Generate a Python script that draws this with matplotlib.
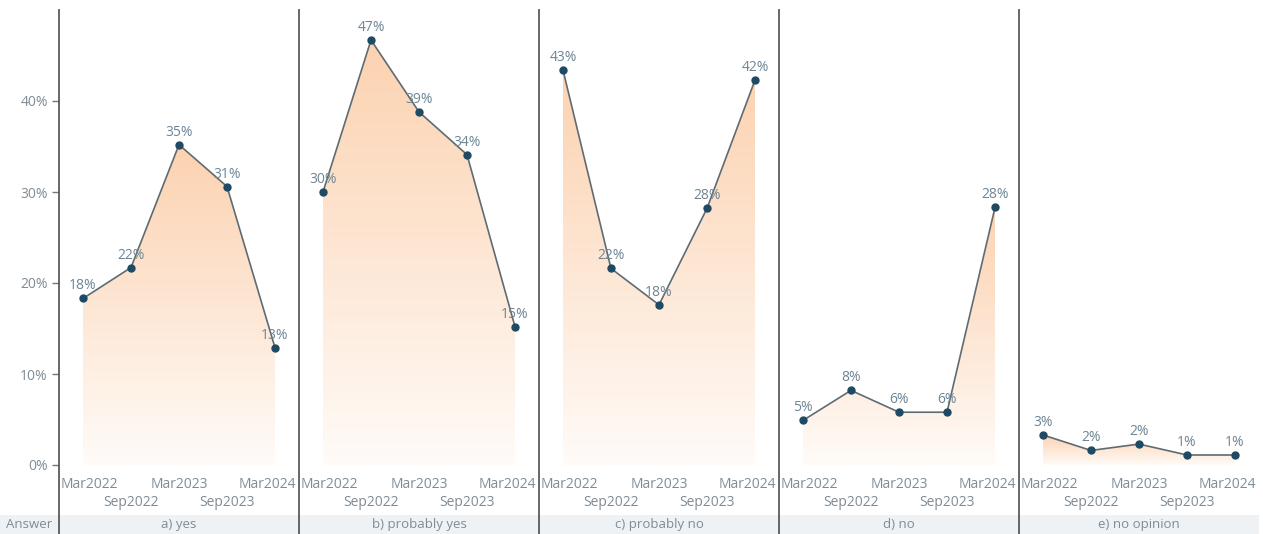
import numpy as np
import matplotlib
matplotlib.use("Agg")
import matplotlib.pyplot as plt
from matplotlib.colors import LinearSegmentedColormap
from matplotlib.patches import Polygon, Rectangle
from matplotlib.lines import Line2D

plt.rcParams["font.family"] = ["Open Sans", "DejaVu Sans"]

# Survey answers over time (share of respondents, %)
periods = ["Mar2022", "Sep2022", "Mar2023", "Sep2023", "Mar2024"]
answers = ["a) yes", "b) probably yes", "c) probably no", "d) no", "e) no opinion"]
yes = [18.3, 21.7, 35.2, 30.6, 12.9]
probably_yes = [30.0, 46.7, 38.8, 34.1, 15.2]
probably_no = [43.4, 21.6, 17.6, 28.2, 42.3]
no = [4.9, 8.2, 5.8, 5.8, 28.3]
no_opinion = [3.3, 1.6, 2.3, 1.1, 1.1]
series = [yes, probably_yes, probably_no, no, no_opinion]
y_ticks = [0, 10, 20, 30, 40]

W, H = 1263, 534
fig = plt.figure(figsize=(W / 100, H / 100), dpi=100)

line_col = "#5f6b72"
dot_col = "#1f4a63"
text_col = "#6d8595"
tick_col = "#7f8c96"
sep_col = "#5a5a5a"
fade = LinearSegmentedColormap.from_list("fade", ["#fffbf8", "#fcd2b0"])

x0, pw = 59, 240          # left edge and width of each panel, px
y_zero, y_top = 465, 10   # pixel rows of 0% and of the 50% top
ymax = 50

def px(x, y, w, h):
    return (x / W, 1 - (y + h) / H, w / W, h / H)

# footer band with the answer names
fig.patches.append(Rectangle((0, 0), 1259 / W, 19 / H, transform=fig.transFigure,
                             facecolor="#eef2f5", edgecolor="none", zorder=0))
fig.text(6 / W, 9.5 / H, "Answer", color=tick_col, fontsize=9.5, va="center", ha="left")

xs = np.arange(len(periods))
for i, (name, vals) in enumerate(zip(answers, series)):
    ax = fig.add_axes(px(x0 + i * pw, y_top, pw, y_zero - y_top))
    ax.set_xlim(-0.5, len(periods) - 0.5)
    ax.set_ylim(0, ymax)
    for s in ax.spines.values():
        s.set_visible(False)
    ax.set_xticks([])
    if i == 0:
        ax.set_yticks(y_ticks)
        ax.set_yticklabels([f"{t}%" for t in y_ticks])
        ax.tick_params(axis="y", length=5, width=1, color="#777777",
                       labelcolor=tick_col, labelsize=10, pad=3)
    else:
        ax.set_yticks([])

    # gradient fill under the line, clipped to the area polygon
    top = max(vals)
    grad = np.linspace(0, 1, 256).reshape(-1, 1)
    im = ax.imshow(grad, cmap=fade, aspect="auto", origin="lower",
                   extent=(xs[0], xs[-1], 0, top), zorder=1)
    poly = Polygon(np.column_stack([np.r_[xs[0], xs, xs[-1]], np.r_[0, vals, 0]]),
                   closed=True, facecolor="none", edgecolor="none")
    ax.add_patch(poly)
    im.set_clip_path(poly)

    ax.plot(xs, vals, color=line_col, lw=1.2, zorder=2, clip_on=False)
    ax.plot(xs, vals, "o", color=dot_col, ms=5, zorder=3, clip_on=False)
    for x, v in zip(xs, vals):
        ax.annotate(f"{round(v)}%", (x, v), xytext=(0, 5), textcoords="offset pixels",
                    ha="center", va="bottom", color=text_col, fontsize=10, zorder=4)

    # staggered period labels under the panel, end labels kept inside the panel
    for j, lab in enumerate(periods):
        dy = -19 if j % 2 == 0 else -38
        if j == 0:
            pos, ha, dx = (0, 0), "left", 2
        elif j == len(periods) - 1:
            pos, ha, dx = (1, 0), "right", -3
        else:
            pos, ha, dx = None, "center", 0
        if pos is None:
            ax.annotate(lab, (j, 0), xycoords=("data", "axes fraction"),
                        xytext=(dx, dy), textcoords="offset pixels", ha=ha, va="center",
                        color=tick_col, fontsize=10, annotation_clip=False)
        else:
            ax.annotate(lab, pos, xycoords="axes fraction", xytext=(dx, dy),
                        textcoords="offset pixels", ha=ha, va="center",
                        color=tick_col, fontsize=10, annotation_clip=False)

    fig.text((x0 + i * pw + pw / 2) / W, 9.5 / H, name, color=tick_col,
             fontsize=9.5, ha="center", va="center")

    # vertical separator on the left of each panel
    xl = (x0 + i * pw) / W
    fig.lines.append(Line2D([xl, xl], [0, 1 - y_top / H], transform=fig.transFigure,
                            color=sep_col, lw=1.3, zorder=5))

fig.savefig("out.png", dpi=100)
